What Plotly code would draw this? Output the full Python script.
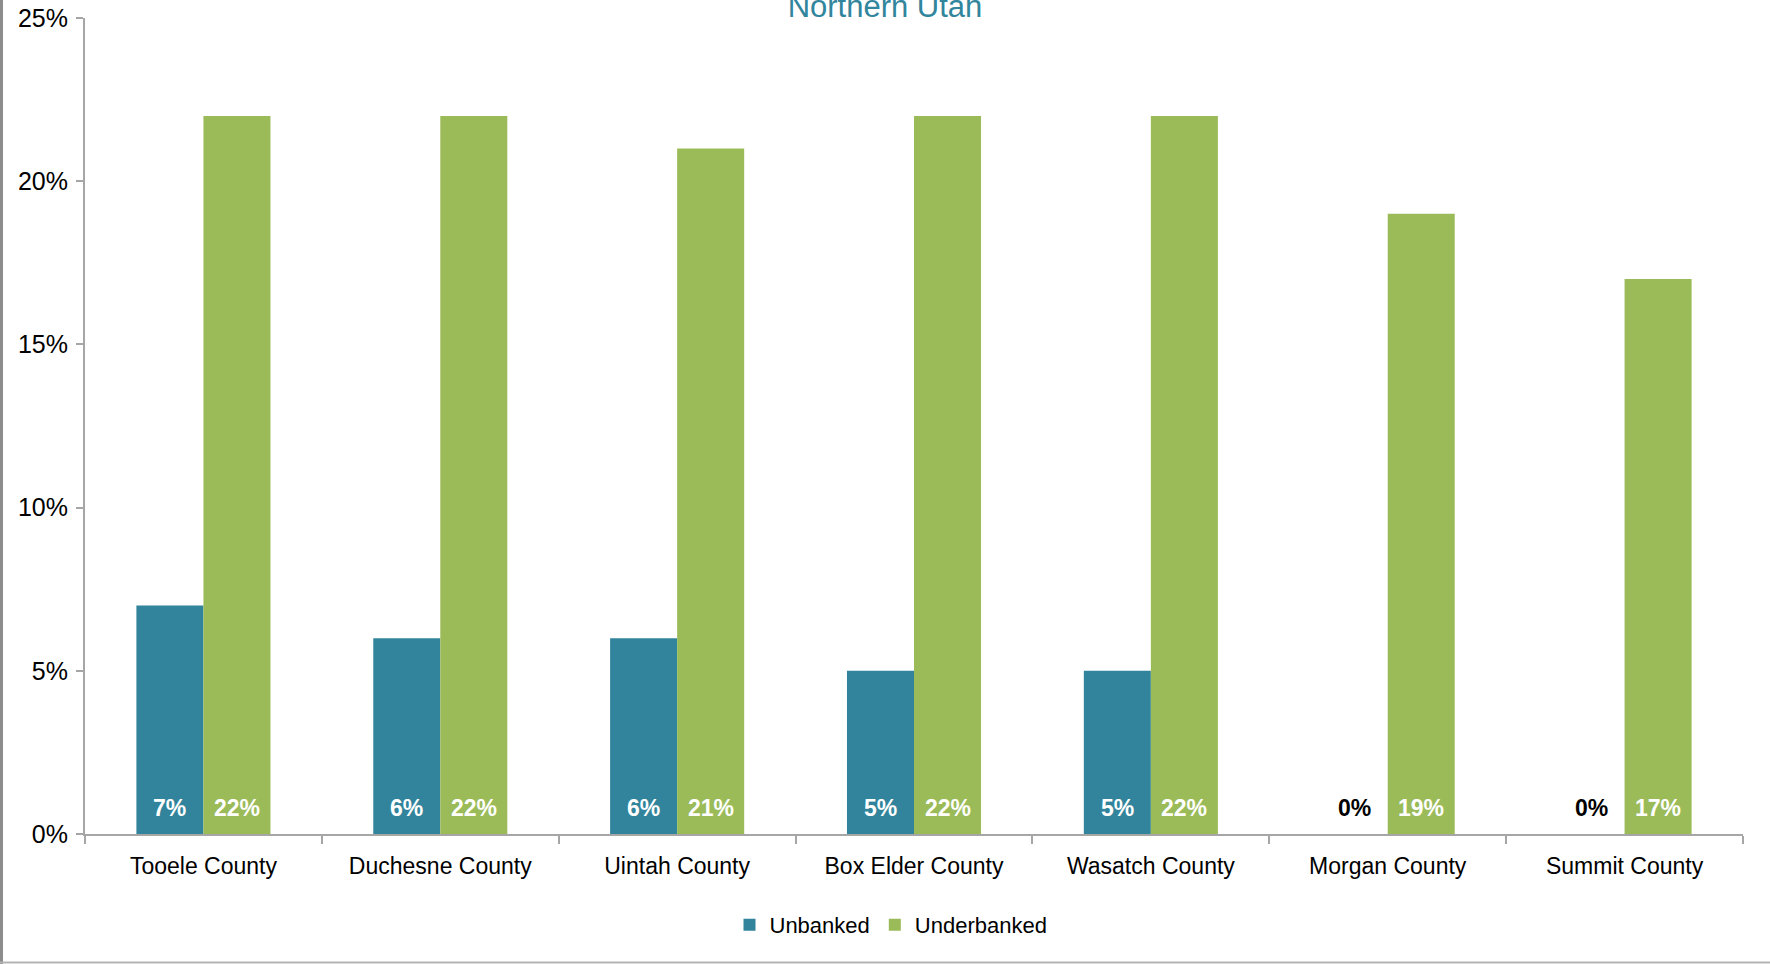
import plotly.graph_objects as go

categories = ["Tooele County", "Duchesne County", "Uintah County", "Box Elder County",
              "Wasatch County", "Morgan County", "Summit County"]
unbanked = [7, 6, 6, 5, 5, 0, 0]
underbanked = [22, 22, 21, 22, 22, 19, 17]
series_names = ["Unbanked", "Underbanked"]
series_colors = ["#31849B", "#9BBB59"]
y_ticks = [0, 5, 10, 15, 20, 25]
y_tick_labels = ["0%", "5%", "10%", "15%", "20%", "25%"]
title_text = "Northern Utah"

FONT = "Liberation Sans Narrow, Arial Narrow, Liberation Sans, Arial, sans-serif"
W, H = 1770, 964
ML, MR, MT, MB = 85, 27, 18, 130
PW, PH = W - ML - MR, H - MT - MB
BARGAP = 0.434

fig = go.Figure()
for name, vals, col in zip(series_names, [unbanked, underbanked], series_colors):
    fig.add_trace(go.Bar(x=categories, y=vals, name=name, marker_color=col,
                         marker_line_width=0))

# data labels at the base of each bar
n_series = 2
bw = (1 - BARGAP) / n_series
for si, vals in enumerate([unbanked, underbanked]):
    off = -(1 - BARGAP) / 2 + bw * (si + 0.5)
    for ci, v in enumerate(vals):
        fig.add_annotation(x=ci + off, y=0, xref="x", yref="y", text=f"<b>{v}%</b>",
                           showarrow=False, yshift=26, yanchor="middle",
                           font=dict(family=FONT, size=23,
                                     color="white" if v > 0 else "black"))

def px(xp):
    return (xp - ML) / PW

def py(yp):
    return (H - MB - yp) / PH

# outer border lines (left and bottom)
fig.add_shape(type="line", xref="paper", yref="paper", x0=px(1.5), x1=px(1.5),
              y0=py(0), y1=py(H), line=dict(color="#8C8C8C", width=3))
fig.add_shape(type="line", xref="paper", yref="paper", x0=px(0), x1=px(W),
              y0=py(962.5), y1=py(962.5), line=dict(color="#B4B4B4", width=2))

fig.update_layout(
    width=W, height=H,
    margin=dict(l=ML, r=MR, t=MT, b=MB, autoexpand=False),
    paper_bgcolor="white", plot_bgcolor="white",
    barmode="group", bargap=BARGAP, bargroupgap=0,
    title=dict(text=title_text, x=0.5, xref="container", xanchor="center",
               y=1 - 6 / H, yref="container", yanchor="middle",
               font=dict(family=FONT, size=31, color="#31859C")),
    font=dict(family=FONT, size=24, color="black"),
    showlegend=True,
    legend=dict(orientation="h", x=px(891), xanchor="center", y=py(925), yanchor="middle",
                font=dict(family=FONT, size=22, color="black"),
                itemwidth=30, traceorder="normal"),
    xaxis=dict(showline=True, linecolor="#A6A6A6", linewidth=2, ticks="outside",
               tickson="boundaries", ticklen=8, tickcolor="#A6A6A6", tickwidth=1.5,
               showgrid=False, tickfont=dict(family=FONT, size=23, color="black"),
               ticklabelstandoff=10, automargin=False),
    yaxis=dict(range=[0, 25], tickvals=y_ticks, ticktext=y_tick_labels, showline=True,
               linecolor="#A6A6A6", linewidth=2, ticks="outside", ticklen=7,
               tickcolor="#A6A6A6", tickwidth=1.5, showgrid=False, zeroline=False,
               tickfont=dict(family=FONT, size=25, color="black"), ticklabelstandoff=3,
               automargin=False),
)

fig.write_html("out.html", config={"displayModeBar": False},
               post_script="document.body.style.margin='0';document.body.style.overflow='hidden';")
